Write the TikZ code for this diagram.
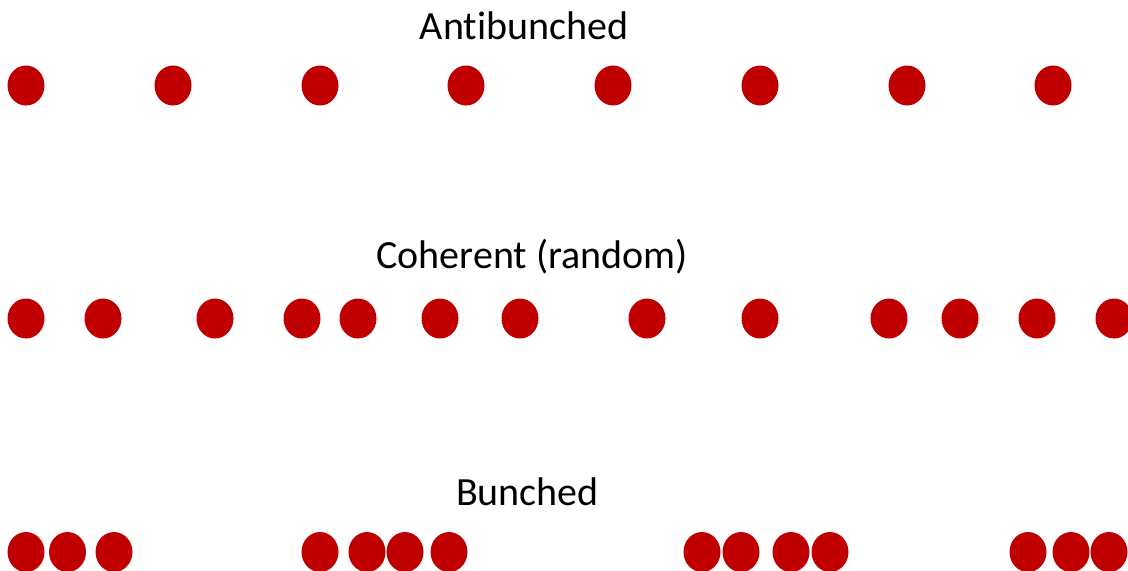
\documentclass[tikz,border=0pt]{standalone}
\usepackage{fontspec}
\setmainfont[Ligatures={NoCommon,NoRequired}]{Carlito}
\usetikzlibrary{shapes.geometric}
\definecolor{photonred}{HTML}{C00000}
\tikzset{
  photon/.style={ellipse, fill=photonred, draw=none, inner sep=0pt,
    minimum width=37*0.75pt, minimum height=40*0.75pt},
  rowlabel/.style={anchor=base, inner sep=0pt, font=\fontsize{30}{36}\selectfont}
}
\begin{document}
\begin{tikzpicture}[x=0.75pt, y=-0.75pt]
  \useasboundingbox (0,0) rectangle (1128,571);
  \begin{scope}
    \clip (0,0) rectangle (1128,571);

    % antibunched: evenly spaced photons
    \node[rowlabel] (tA) at (524,39) {Antibunched};
    \foreach \x [count=\i] in {26,173,320,466,613,760,907,1053}
      \node[photon] (a\i) at (\x,85.5) {};

    % coherent: random spacing
    \node[rowlabel] (tC) at (532,268) {Coherent (random)};
    \foreach \x [count=\i] in {26,103,215,302,358,440,520,647,760,889,960,1037,1114}
      \node[photon] (c\i) at (\x,318.5) {};

    % bunched: photons arrive in clusters
    \node[rowlabel] (tB) at (527.5,505) {Bunched};
    \foreach \x [count=\i] in {26,67.5,114,320,367,405,449,702,741,791,830,1028,1071,1109}
      \node[photon] (b\i) at (\x,552) {};
  \end{scope}
\end{tikzpicture}
\end{document}
